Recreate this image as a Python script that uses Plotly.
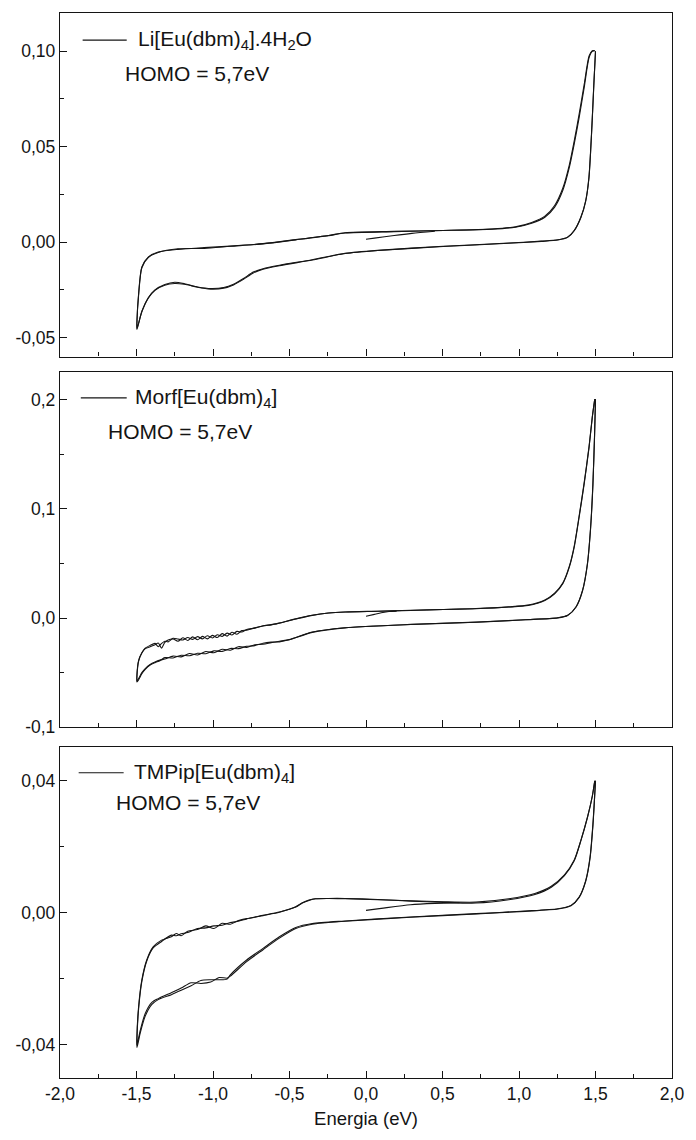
import plotly.graph_objects as go
from plotly.subplots import make_subplots

# ---------------- data: cyclic voltammograms (current vs. energy) ----------------
# Li[Eu(dbm)4].4H2O
li_start_x = [0.0, 0.055, 0.184, 0.30, 0.45]
li_start_y = [0.0015, 0.0021, 0.0035, 0.0046, 0.0057]
li_fwd_x = [-1.497, -1.486, -1.465, -1.422, -1.358, -1.229, -1.058, -0.887, -0.673, -0.459,
            -0.245, -0.137, 0.184, 0.505, 0.826, 0.976, 1.083, 1.169, 1.233, 1.286,
            1.329, 1.361, 1.393, 1.426, 1.458, 1.479, 1.495]
li_fwd_y_a = [-0.0409, -0.0269, -0.0130, -0.0078, -0.0052, -0.0038, -0.0029, -0.0021, -0.0008, 0.0013,
              0.0035, 0.0049, 0.0056, 0.0061, 0.0068, 0.0078, 0.0099, 0.0130, 0.0183, 0.0270,
              0.0391, 0.0514, 0.0652, 0.0809, 0.0966, 0.1000, 0.1002]
li_fwd_y_b = [-0.0420, -0.0275, -0.0134, -0.0080, -0.0054, -0.0035, -0.0033, -0.0022, -0.0009, 0.0012,
              0.0034, 0.0048, 0.0055, 0.0061, 0.0069, 0.0080, 0.0103, 0.0136, 0.0192, 0.0282,
              0.0405, 0.0530, 0.0670, 0.0826, 0.0975, 0.1003, 0.1003]
li_rev_x = [1.500, 1.489, 1.479, 1.468, 1.457, 1.436, 1.404, 1.361, 1.318, 1.254,
            1.147, 0.933, 0.505, 0.076, -0.137, -0.351, -0.566, -0.673, -0.737, -0.801,
            -0.866, -0.930, -1.015, -1.101, -1.186, -1.250, -1.315, -1.379, -1.422, -1.465,
            -1.497]
li_rev_y_a = [0.1000, 0.0827, 0.0652, 0.0479, 0.0339, 0.0218, 0.0130, 0.0061, 0.0026, 0.0012,
              0.0005, -0.0005, -0.0022, -0.0043, -0.0059, -0.0092, -0.0121, -0.0139, -0.0157, -0.0191,
              -0.0221, -0.0238, -0.0243, -0.0235, -0.0221, -0.0217, -0.0226, -0.0252, -0.0292, -0.0365,
              -0.0452]
li_rev_y_b = [0.1000, 0.0820, 0.0645, 0.0470, 0.0333, 0.0214, 0.0128, 0.0060, 0.0025, 0.0011,
              0.0004, -0.0006, -0.0023, -0.0044, -0.0060, -0.0094, -0.0124, -0.0142, -0.0162, -0.0195,
              -0.0224, -0.0241, -0.0246, -0.0236, -0.0218, -0.0210, -0.0222, -0.0250, -0.0290, -0.0362,
              -0.0458]

# Morf[Eu(dbm)4]
morf_start_x = [0.0, 0.055, 0.10, 0.15, 0.20]
morf_start_y = [0.0016, 0.0034, 0.0048, 0.0060, 0.0064]
morf_fwd_x = [-1.497, -1.486, -1.465, -1.443, -1.411, -1.379, -1.358, -1.336, -1.315, -1.293,
              -1.261, -1.229, -1.197, -1.165, -1.133, -1.101, -1.069, -1.037, -1.004, -0.972,
              -0.940, -0.908, -0.876, -0.844, -0.812, -0.780, -0.727, -0.673, -0.620, -0.566,
              -0.459, -0.351, -0.245, -0.137, 0.077, 0.291, 0.505, 0.719, 0.933, 1.061,
              1.169, 1.233, 1.286, 1.329, 1.361, 1.393, 1.426, 1.458, 1.479, 1.495]
morf_fwd_y_a = [-0.0515, -0.0387, -0.0320, -0.0280, -0.0262, -0.0245, -0.0228, -0.0275, -0.0222, -0.0200,
                -0.0192, -0.0212, -0.0180, -0.0205, -0.0172, -0.0198, -0.0168, -0.0190, -0.0158, -0.0178,
                -0.0142, -0.0165, -0.0130, -0.0148, -0.0115, -0.0110, -0.0090, -0.0072, -0.0060, -0.0046,
                -0.0008, 0.0025, 0.0046, 0.0055, 0.0062, 0.0070, 0.0078, 0.0086, 0.0101, 0.0116,
                0.0162, 0.0223, 0.0314, 0.0466, 0.0649, 0.0923, 0.1229, 0.1563, 0.1837, 0.2005]
morf_fwd_y_b = [-0.0530, -0.0395, -0.0318, -0.0276, -0.0250, -0.0232, -0.0262, -0.0232, -0.0212, -0.0218,
                -0.0185, -0.0192, -0.0200, -0.0178, -0.0195, -0.0170, -0.0190, -0.0162, -0.0182, -0.0152,
                -0.0168, -0.0138, -0.0155, -0.0122, -0.0128, -0.0104, -0.0092, -0.0070, -0.0062, -0.0045,
                -0.0007, 0.0026, 0.0046, 0.0056, 0.0063, 0.0071, 0.0079, 0.0087, 0.0103, 0.0119,
                0.0166, 0.0228, 0.0320, 0.0475, 0.0660, 0.0935, 0.1240, 0.1572, 0.1842, 0.2005]
morf_rev_x = [1.500, 1.494, 1.483, 1.468, 1.447, 1.415, 1.372, 1.318, 1.254, 1.040,
              0.719, 0.291, -0.137, -0.351, -0.502, -0.566, -0.620, -0.673, -0.727, -0.780,
              -0.834, -0.887, -0.940, -0.994, -1.047, -1.101, -1.154, -1.208, -1.261, -1.315,
              -1.347, -1.379, -1.411, -1.443, -1.465, -1.486, -1.497]
morf_rev_y_a = [0.2005, 0.1685, 0.1229, 0.0832, 0.0497, 0.0253, 0.0101, 0.0025, 0.0003, -0.0015,
                -0.0037, -0.0058, -0.0088, -0.0128, -0.0197, -0.0212, -0.0225, -0.0240, -0.0244, -0.0268,
                -0.0262, -0.0294, -0.0286, -0.0318, -0.0306, -0.0338, -0.0325, -0.0355, -0.0348, -0.0375,
                -0.0385, -0.0402, -0.0425, -0.0463, -0.0500, -0.0554, -0.0576]
morf_rev_y_b = [0.2005, 0.1670, 0.1215, 0.0820, 0.0490, 0.0248, 0.0099, 0.0024, 0.0002, -0.0016,
                -0.0038, -0.0059, -0.0090, -0.0131, -0.0199, -0.0218, -0.0220, -0.0230, -0.0252, -0.0258,
                -0.0280, -0.0278, -0.0305, -0.0300, -0.0326, -0.0322, -0.0345, -0.0340, -0.0365, -0.0362,
                -0.0390, -0.0408, -0.0430, -0.0470, -0.0510, -0.0565, -0.0585]

# TMPip[Eu(dbm)4]
tmp_start_x = [0.0, 0.10, 0.291, 0.45, 0.612]
tmp_start_y = [0.0007, 0.0013, 0.0024, 0.0028, 0.0030]
tmp_fwd_x = [-1.497, -1.486, -1.465, -1.433, -1.390, -1.336, -1.272, -1.240, -1.208, -1.165,
             -1.101, -1.047, -0.994, -0.940, -0.887, -0.834, -0.780, -0.673, -0.566, -0.502,
             -0.459, -0.416, -0.373, -0.330, -0.245, -0.137, 0.077, 0.291, 0.505, 0.719,
             0.933, 1.104, 1.211, 1.297, 1.361, 1.404, 1.447, 1.479, 1.495]
tmp_fwd_y_a = [-0.0371, -0.0283, -0.0203, -0.0143, -0.0103, -0.0083, -0.0073, -0.0063, -0.0070, -0.0056,
               -0.0051, -0.0040, -0.0048, -0.0032, -0.0035, -0.0024, -0.0018, -0.0008, 0.0002, 0.0010,
               0.0018, 0.0030, 0.0038, 0.0042, 0.0043, 0.0043, 0.0040, 0.0035, 0.0031, 0.0029,
               0.0039, 0.0055, 0.0077, 0.0112, 0.0157, 0.0217, 0.0287, 0.0352, 0.0399]
tmp_fwd_y_b = [-0.0380, -0.0290, -0.0208, -0.0146, -0.0106, -0.0087, -0.0068, -0.0070, -0.0064, -0.0060,
               -0.0048, -0.0046, -0.0040, -0.0038, -0.0030, -0.0026, -0.0019, -0.0009, 0.0001, 0.0010,
               0.0017, 0.0029, 0.0037, 0.0042, 0.0043, 0.0042, 0.0039, 0.0036, 0.0033, 0.0032,
               0.0042, 0.0058, 0.0080, 0.0114, 0.0159, 0.0218, 0.0288, 0.0352, 0.0399]
tmp_rev_x = [1.500, 1.483, 1.464, 1.436, 1.393, 1.340, 1.254, 1.040, 0.719, 0.291,
             -0.137, -0.351, -0.459, -0.566, -0.673, -0.780, -0.887, -0.908, -0.960, -1.015,
             -1.079, -1.143, -1.208, -1.272, -1.358, -1.401, -1.443, -1.475, -1.497]
tmp_rev_y_a = [0.0399, 0.0267, 0.0167, 0.0097, 0.0047, 0.0022, 0.0012, 0.0005, -0.0003, -0.0013,
               -0.0025, -0.0033, -0.0045, -0.0073, -0.0108, -0.0143, -0.0188, -0.0201, -0.0203, -0.0203,
               -0.0205, -0.0221, -0.0235, -0.0248, -0.0263, -0.0278, -0.0313, -0.0363, -0.0408]
tmp_rev_y_b = [0.0399, 0.0262, 0.0163, 0.0095, 0.0046, 0.0021, 0.0011, 0.0004, -0.0004, -0.0014,
               -0.0026, -0.0035, -0.0048, -0.0077, -0.0112, -0.0148, -0.0192, -0.0198, -0.0196, -0.0210,
               -0.0214, -0.0212, -0.0228, -0.0242, -0.0260, -0.0272, -0.0305, -0.0355, -0.0400]

# axis ticks
x_ticks = [-2.0, -1.5, -1.0, -0.5, 0.0, 0.5, 1.0, 1.5, 2.0]
x_labels = ["-2,0", "-1,5", "-1,0", "-0,5", "0,0", "0,5", "1,0", "1,5", "2,0"]
li_ticks = [-0.05, 0.0, 0.05, 0.10]
li_labels = ["-0,05", "0,00", "0,05", "0,10"]
morf_ticks = [-0.1, 0.0, 0.1, 0.2]
morf_labels = ["-0,1", "0,0", "0,1", "0,2"]
tmp_ticks = [-0.04, 0.0, 0.04]
tmp_labels = ["-0,04", "0,00", "0,04"]

series_names = ["Li[Eu(dbm)<sub>4</sub>].4H<sub>2</sub>O", "Morf[Eu(dbm)<sub>4</sub>]",
                "TMPip[Eu(dbm)<sub>4</sub>]"]
homo_text = "HOMO = 5,7eV"

# ---------------- figure ----------------
INK = "#141414"
FONT = "Liberation Sans, Arial, Helvetica, sans-serif"

fig = make_subplots(rows=3, cols=1)

panels = [
    (li_start_x, li_start_y, li_fwd_x, li_fwd_y_a, li_fwd_y_b, li_rev_x, li_rev_y_a, li_rev_y_b),
    (morf_start_x, morf_start_y, morf_fwd_x, morf_fwd_y_a, morf_fwd_y_b, morf_rev_x, morf_rev_y_a, morf_rev_y_b),
    (tmp_start_x, tmp_start_y, tmp_fwd_x, tmp_fwd_y_a, tmp_fwd_y_b, tmp_rev_x, tmp_rev_y_a, tmp_rev_y_b),
]

line_style = dict(color=INK, width=1.1, shape="spline", smoothing=0.7)
for row, (sx, sy, fx, fya, fyb, rx, rya, ryb) in enumerate(panels, start=1):
    # first sweep starting from open circuit
    fig.add_trace(go.Scatter(x=sx, y=sy, mode="lines", line=line_style,
                             showlegend=False, hoverinfo="skip"), row=row, col=1)
    # two full cycles: reverse sweep followed by forward sweep
    for fy, ry in ((fya, rya), (fyb, ryb)):
        fig.add_trace(go.Scatter(x=list(rx) + list(fx), y=list(ry) + list(fy), mode="lines",
                                 line=line_style, showlegend=False, hoverinfo="skip"),
                      row=row, col=1)

tick_font = dict(family=FONT, size=17.5, color=INK)
axis_common = dict(showline=True, linecolor=INK, linewidth=1.4, mirror=True,
                   ticks="inside", ticklen=7, tickwidth=1.2, tickcolor=INK,
                   showgrid=False, zeroline=False, tickfont=tick_font)

y_specs = [
    ([-0.06, 0.12], li_ticks, li_labels, 0.025, [0.6773, 1.0]),
    ([-0.1, 0.225], morf_ticks, morf_labels, 0.05, [0.3293, 0.6626]),
    ([-0.05, 0.05], tmp_ticks, tmp_labels, 0.02, [0.0, 0.3105]),
]

for i, (rng, tv, tt, mdt, dom) in enumerate(y_specs, start=1):
    sfx = "" if i == 1 else str(i)
    fig.layout["yaxis" + sfx].update(
        range=rng, domain=dom, tickmode="array", tickvals=tv, ticktext=tt,
        minor=dict(ticks="inside", ticklen=4, tickwidth=1.2, tickcolor=INK,
                   tickmode="linear", tick0=0, dtick=mdt, showgrid=False),
        **axis_common)
    fig.layout["xaxis" + sfx].update(
        range=[-2, 2], domain=[0, 1], tickmode="array", tickvals=x_ticks, ticktext=x_labels,
        showticklabels=(i == 3),
        minor=dict(ticks="inside", ticklen=4, tickwidth=1.2, tickcolor=INK,
                   tickmode="linear", tick0=-2, dtick=0.25, showgrid=False),
        **axis_common)

fig.layout.xaxis3.title = dict(text="Energia (eV)", font=dict(family=FONT, size=18.5, color=INK),
                               standoff=8)

# per-panel legend sample and HOMO note, in axis-domain coordinates
legend_pos = [
    # line x0, line x1, line y, text x, homo x, homo y
    (0.037, 0.109, 0.921, 0.124, 0.103, 0.825),
    (0.034, 0.109, 0.928, 0.120, 0.0755, 0.832),
    (0.0305, 0.104, 0.923, 0.117, 0.088, 0.832),
]
for i, (lx0, lx1, ly, tx, hx, hy) in enumerate(legend_pos, start=1):
    sfx = "" if i == 1 else str(i)
    xr, yr = "x" + sfx + " domain", "y" + sfx + " domain"
    fig.add_shape(type="line", xref=xr, yref=yr, x0=lx0, x1=lx1, y0=ly, y1=ly,
                  line=dict(color=INK, width=1.1))
    fig.add_annotation(xref=xr, yref=yr, x=tx, y=ly, text=series_names[i - 1],
                       showarrow=False, xanchor="left", yanchor="middle",
                       font=dict(family=FONT, size=21, color=INK))
    fig.add_annotation(xref=xr, yref=yr, x=hx, y=hy, text=homo_text,
                       showarrow=False, xanchor="left", yanchor="middle",
                       font=dict(family=FONT, size=21, color=INK))

fig.update_layout(width=696, height=1140, margin=dict(l=60, r=13, t=13, b=62),
                  paper_bgcolor="white", plot_bgcolor="white", showlegend=False)

fig.write_html("out.html")
